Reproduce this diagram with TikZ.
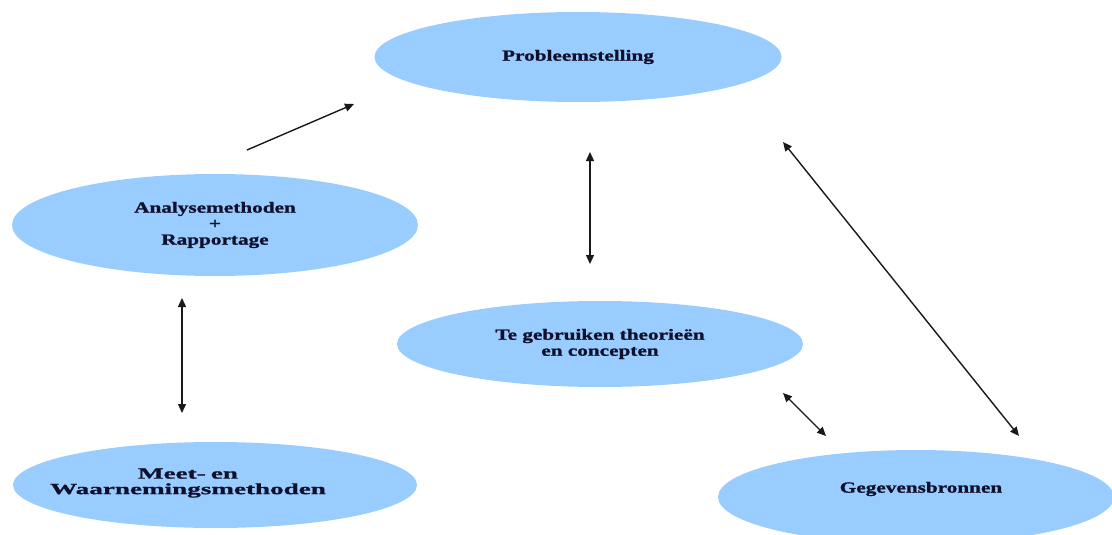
\documentclass[tikz,border=0pt]{standalone}
\usepackage{fontspec}
\usetikzlibrary{shapes.geometric,arrows.meta}
\newfontfamily\lbl{Liberation Serif}[FakeStretch=1.37,FakeBold=1.2]
\newfontfamily\lblw{Liberation Serif}[FakeStretch=1.75,FakeBold=1.2]
\definecolor{ellfill}{RGB}{153,204,255}
\definecolor{txtcol}{RGB}{16,16,45}
\definecolor{arrcol}{RGB}{25,25,25}
\tikzset{
  bubble/.style={ellipse, fill=ellfill, draw=none, inner sep=0pt, align=center,
    text=txtcol, font=\lbl\bfseries\fontsize{15.5}{16}\selectfont},
  bubbletext/.style={inner sep=0pt, align=center, text=txtcol,
    font=\lblw\bfseries\fontsize{15.5}{15.5}\selectfont},
  conn/.style={draw=arrcol, line width=1.4pt,
    arrows={-Triangle[length=9pt,width=8pt]}},
  dconn/.style={draw=arrcol, line width=1.4pt,
    arrows={Triangle[length=9pt,width=8pt]-Triangle[length=9pt,width=8pt]}}
}
\begin{document}
\begin{tikzpicture}[x=1pt,y=-1pt]
\useasboundingbox (0,0) rectangle (1112,535);
\clip (0,0) rectangle (1112,535);
\node[bubble, minimum width=407pt, minimum height=90pt] (prob) at (578,57) {Probleemstelling};
\node[bubble, minimum width=406pt, minimum height=102pt] (anal) at (215,225) {Analysemethoden\\+\\Rapportage};
\node[bubble, minimum width=406pt, minimum height=86pt] (theo) at (600,344) {Te gebruiken theorieën\\en concepten};
\node[bubble, minimum width=404pt, minimum height=86pt] (meet) at (215,485) {};
\node[bubbletext] (meettxt) at (188,483) {Meet-\,\,en\\Waarnemingsmethoden};
\node[bubble, minimum width=396pt, minimum height=94pt] (geg) at (916,497) {};
\node[inner sep=0pt, text=txtcol, font=\lbl\bfseries\fontsize{15.5}{16}\selectfont] (gegtxt) at (921,489) {Gegevensbronnen};
% connector end points
\coordinate (a1) at (247,150);
\coordinate (a2) at (354,104);
\coordinate (b1) at (590,152);
\coordinate (b2) at (590,264);
\coordinate (c1) at (783,142);
\coordinate (c2) at (1019,436);
\coordinate (d1) at (182,298);
\coordinate (d2) at (182,413);
\coordinate (e1) at (783,393);
\coordinate (e2) at (826,436);
\draw[conn] (a1) -- (a2);
\draw[dconn] (b1) -- (b2);
\draw[dconn] (c1) -- (c2);
\draw[dconn] (d1) -- (d2);
\draw[dconn] (e1) -- (e2);
\end{tikzpicture}
\end{document}
